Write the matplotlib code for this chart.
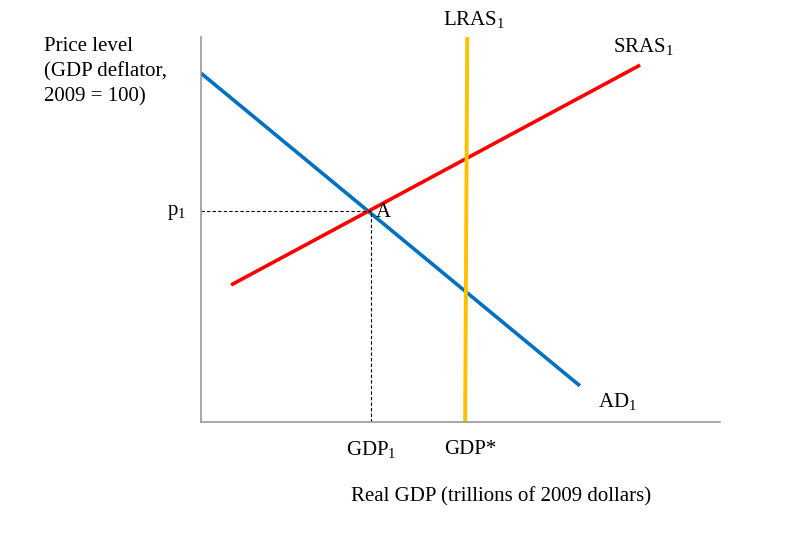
import matplotlib
matplotlib.use('Agg')
import matplotlib.pyplot as plt

plt.rcParams['font.family'] = ['Liberation Serif', 'DejaVu Serif']
plt.rcParams['mathtext.fontset'] = 'custom'
plt.rcParams['mathtext.rm'] = 'Liberation Serif'
plt.rcParams['mathtext.it'] = 'Liberation Serif:italic'

# curve endpoints in chart units (x: 0-10, y: 0-10)
ad_x = [0.0, 7.30]
ad_y = [9.06, 0.94]
sras_x = [0.58, 8.46]
sras_y = [3.56, 9.27]
lras_x = [5.13, 5.09]
lras_y = [10.0, 0.0]

# equilibrium A
gdp1 = 3.276
p1 = 5.48
gdp_star = 5.11

fig = plt.figure(figsize=(7.91, 5.41), dpi=100)
ax = fig.add_axes([201 / 791, (541 - 422) / 541, (720 - 201) / 791, (422 - 37) / 541])
ax.set_xlim(0, 10)
ax.set_ylim(0, 10)

ax.plot(ad_x, ad_y, color='#0070C0', lw=2.6, solid_capstyle='butt')
ax.plot(sras_x, sras_y, color='#FF0000', lw=2.6, solid_capstyle='butt')
ax.plot(lras_x, lras_y, color='#FFC000', lw=2.8, solid_capstyle='butt')

ax.plot([0, gdp1], [p1, p1], color='black', lw=0.8, ls=(0, (3, 2)))
ax.plot([gdp1, gdp1], [0, p1], color='black', lw=0.8, ls=(0, (3, 2)))

for side in ['top', 'right']:
    ax.spines[side].set_visible(False)
for side in ['left', 'bottom']:
    ax.spines[side].set_color('#9A9A9A')
    ax.spines[side].set_linewidth(1.2)
ax.set_xticks([])
ax.set_yticks([])

fs = 15
ax.text(gdp1 + 0.1, p1 - 0.04, 'A', fontsize=fs, va='center', ha='left')
ax.text(-0.48, p1 - 0.04, 'p$_1$', fontsize=fs, va='center', ha='center')
ax.text(gdp1, -0.72, 'GDP$_1$', fontsize=fs, va='center', ha='center')
ax.text(5.18, -0.72, 'GDP*', fontsize=fs, va='center', ha='center')
ax.text(5.26, 10.45, 'LRAS$_1$', fontsize=fs, va='center', ha='center')
ax.text(8.52, 9.75, 'SRAS$_1$', fontsize=fs, va='center', ha='center')
ax.text(8.02, 0.53, 'AD$_1$', fontsize=fs, va='center', ha='center')

fig.text(44 / 791, 1 - 37 / 541, 'Price level\n(GDP deflator,\n2009 = 100)',
         fontsize=fs, va='top', ha='left', linespacing=1.42)
fig.text(501 / 791, 1 - 497 / 541, 'Real GDP (trillions of 2009 dollars)',
         fontsize=fs, va='center', ha='center')

fig.savefig('out.png', dpi=100)
